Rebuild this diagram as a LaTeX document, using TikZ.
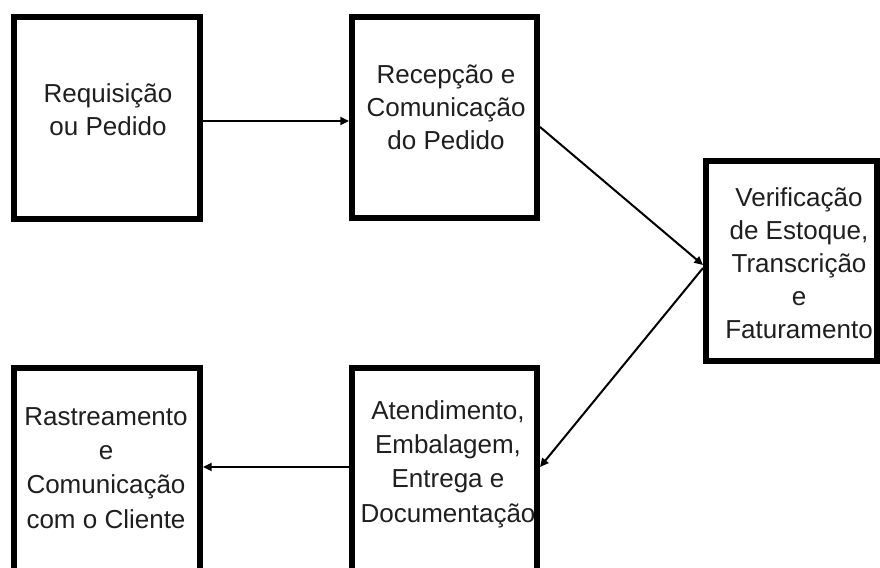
\documentclass[tikz,border=0pt]{standalone}
\usepackage{fontspec}
\setmainfont{Liberation Sans}
\usetikzlibrary{arrows.meta}
\tikzset{
  stagebox/.style={draw=black, line width=4.5pt, rectangle, inner sep=0pt},
  % anchored at the baseline of the last line
  caption/.style={align=center, anchor=base, inner sep=0pt,
    font=\fontsize{19.5}{24.6}\selectfont, text=black!88},
  widecaption/.style={caption, font=\fontsize{19.5}{25.7}\selectfont},
  flow/.style={line width=1.5pt, -{Triangle[length=6.5pt,width=6pt]}}
}
\begin{document}
\begin{tikzpicture}[x=0.75pt,y=-0.75pt]
  \useasboundingbox (0,0) rectangle (880,567);
  \fill[white] (0,0) rectangle (880,567);
  \clip (0,0) rectangle (880,567);

  % process stages (sizes given along the border's centre line)
  \node[stagebox, minimum width=139.5pt, minimum height=151.5pt] (box1) at (107,118) {};
  \node[stagebox, minimum width=138.75pt, minimum height=150.75pt] (box2) at (444.5,117.5) {};
  \node[stagebox, minimum width=128.25pt, minimum height=150pt] (box3) at (791.5,261) {};
  \node[stagebox, minimum width=139.5pt, minimum height=174pt] (box4) at (107,484) {};
  \node[stagebox, minimum width=138.75pt, minimum height=174pt] (box5) at (444.5,484) {};

  % stage texts
  \node[caption] (t1) at (108,135) {Requisição\\ou Pedido};
  \node[caption] (t2) at (446,149) {Recepção e\\Comunicação\\do Pedido};
  \node[caption] (t3) at (799,338) {Verificação\\de Estoque,\\Transcrição\\e\\Faturamento};
  \node[widecaption] (t4) at (106,528) {Rastreamento\\e\\Comunicação\\com o Cliente};
  \node[widecaption] (t5) at (448,522) {Atendimento,\\Embalagem,\\Entrega e\\Documentação};

  % heights at which the connectors meet the boxes
  \coordinate (r1) at (0,121);
  \coordinate (r2) at (0,127);
  \coordinate (r3) at (0,265);
  \coordinate (r4) at (0,268);
  \coordinate (r5) at (0,467);

  \draw[flow] (box1.east |- r1) -- (box2.west |- r1);
  \draw[flow] (box2.east |- r2) -- (box3.west |- r3);
  \draw[flow] (box3.west |- r4) -- (box5.east |- r5);
  \draw[flow] (box5.west |- r5) -- (box4.east |- r5);
\end{tikzpicture}
\end{document}
